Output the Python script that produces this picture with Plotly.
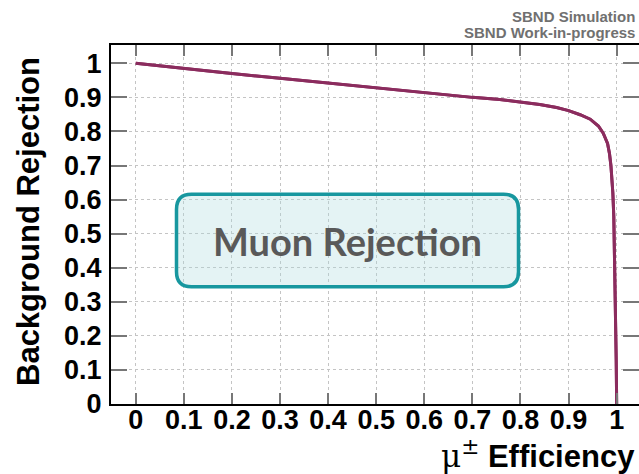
import plotly.graph_objects as go

# ROC curve: muon efficiency vs background rejection
efficiency = [0.0, 0.1, 0.2, 0.3, 0.4, 0.5, 0.6, 0.7, 0.757, 0.8, 0.84, 0.875,
              0.9, 0.924, 0.945, 0.962, 0.972, 0.981, 0.985, 0.988, 0.990,
              0.992, 0.994, 0.995, 0.996, 0.997, 0.998, 0.999, 1.0]
rejection = [1.0, 0.984, 0.970, 0.956, 0.942, 0.927, 0.914, 0.900, 0.894, 0.887,
             0.879, 0.870, 0.861, 0.849, 0.836, 0.816, 0.795, 0.765, 0.735,
             0.700, 0.665, 0.620, 0.550, 0.480, 0.400, 0.320, 0.240, 0.130, 0.0]

tick_vals = [round(0.1 * i, 1) for i in range(11)]
tick_text = ["0", "0.1", "0.2", "0.3", "0.4", "0.5", "0.6", "0.7", "0.8", "0.9", "1"]

W, H = 639, 474
L, R, T, B = 111, 0, 45, 70
PW, PH = W - L - R, H - T - B
X_RANGE = [-0.0514, 1.0464]
Y_RANGE = [0.0, 1.0537]

BOLD = "Liberation Sans, Arial, Helvetica, sans-serif"
CURVE = "#8b2c5e"
TEAL = "#17979f"


def px(x):
    return (x - L) / PW


def py(y):
    return (H - B - y) / PH


def rounded_rect(x0, y0, x1, y1, r):
    # rounded rectangle path in paper coordinates from pixel corners
    pts = [
        ("M", px(x0 + r), py(y0)),
        ("L", px(x1 - r), py(y0)),
        ("Q", px(x1), py(y0), px(x1), py(y0 + r)),
        ("L", px(x1), py(y1 - r)),
        ("Q", px(x1), py(y1), px(x1 - r), py(y1)),
        ("L", px(x0 + r), py(y1)),
        ("Q", px(x0), py(y1), px(x0), py(y1 - r)),
        ("L", px(x0), py(y0 + r)),
        ("Q", px(x0), py(y0), px(x0 + r), py(y0)),
    ]
    out = []
    for p in pts:
        cmd, vals = p[0], p[1:]
        coords = " ".join(f"{vals[i]:.5f},{vals[i+1]:.5f}" for i in range(0, len(vals), 2))
        out.append(f"{cmd} {coords}")
    return " ".join(out) + " Z"


fig = go.Figure()
fig.add_trace(go.Scatter(
    x=efficiency, y=rejection, mode="lines",
    line=dict(color=CURVE, width=3),
    showlegend=False, hoverinfo="skip",
))
# same curve attached to the right-hand axis so its ticks are drawn
fig.add_trace(go.Scatter(
    x=efficiency, y=rejection, mode="lines", yaxis="y2",
    line=dict(color=CURVE, width=3),
    showlegend=False, hoverinfo="skip",
))

axis_common = dict(
    tickvals=tick_vals, ticktext=tick_text,
    showgrid=True, gridcolor="#c4c4c4", griddash="dot", gridwidth=1,
    zeroline=False, ticks="inside", tickcolor="#777777", tickwidth=1.5,
    tickfont=dict(family=BOLD, size=27, color="black", weight="bold"),
    showline=True, linecolor="black", linewidth=2,
)

fig.update_layout(
    width=W, height=H,
    margin=dict(l=L, r=R, t=T, b=B, pad=0),
    paper_bgcolor="white", plot_bgcolor="white",
    xaxis=dict(axis_common, range=X_RANGE, ticklen=11, mirror="ticks",
               ticklabelstandoff=-9),
    yaxis=dict(axis_common, range=Y_RANGE, ticklen=16, mirror=False,
               ticklabelstandoff=2),
    yaxis2=dict(range=Y_RANGE, overlaying="y", side="right", anchor="x",
                tickvals=tick_vals, ticks="inside", ticklen=16,
                tickcolor="#777777", tickwidth=1.5, showticklabels=False,
                showgrid=False, zeroline=False, showline=False),
    shapes=[dict(
        type="path", xref="paper", yref="paper",
        path=rounded_rect(176.5, 194.2, 518.5, 286.8, 15),
        line=dict(color=TEAL, width=3.5),
        fillcolor="rgba(170,218,222,0.32)",
    )],
    annotations=[
        dict(text="Muon Rejection", xref="paper", yref="paper",
             x=px(347.5), y=py(241), xanchor="center", yanchor="middle",
             showarrow=False,
             font=dict(family="Lato, Open Sans, sans-serif", size=38,
                       color="#595959", weight="bold")),
        dict(text="Background Rejection", xref="paper", yref="paper",
             x=px(28), y=py(222), xanchor="center", yanchor="middle",
             textangle=-90, showarrow=False,
             font=dict(family=BOLD, size=31, color="black", weight="bold")),
        dict(text='<span style="font-family:DejaVu Serif;font-weight:normal">μ<sup>±</sup></span> Efficiency',
             xref="paper", yref="paper",
             x=px(637), y=py(476), xanchor="right", yanchor="bottom",
             showarrow=False,
             font=dict(family=BOLD, size=31, color="black", weight="bold")),
        dict(text="SBND Simulation", xref="paper", yref="paper",
             x=px(637), y=py(16.7), xanchor="right", yanchor="middle",
             showarrow=False,
             font=dict(family=BOLD, size=15, color="#707070", weight="bold")),
        dict(text="SBND Work-in-progress", xref="paper", yref="paper",
             x=px(637), y=py(32), xanchor="right", yanchor="middle",
             showarrow=False,
             font=dict(family=BOLD, size=15, color="#707070", weight="bold")),
    ],
)

fig.write_html("out.html")
